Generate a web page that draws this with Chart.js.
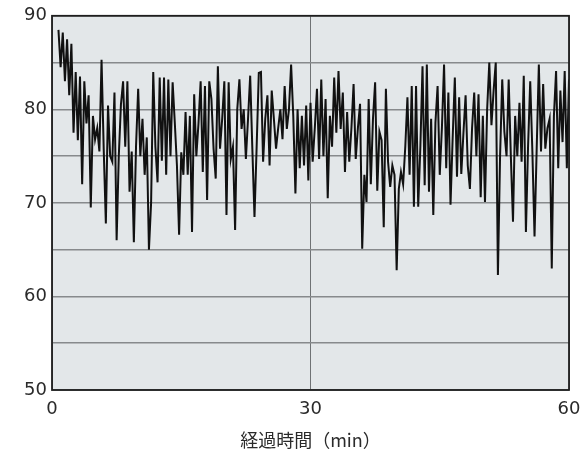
<!DOCTYPE html>
<html>
<head>
<meta charset="utf-8">
<script src="https://cdn.jsdelivr.net/npm/chart.js@4.4.0/dist/chart.umd.min.js"></script>
<style>
  html, body { margin: 0; padding: 0; background: #fff; }
</style>
</head>
<body>
<canvas id="hrChart" width="580" height="458"></canvas>
<script>
// sampled every 15 s, first sample at 0.75 min
var startMin = 0.75
var stepMin = 0.25

// values, one array per ~12 min stretch
var seg1 = [88.5, 84.5, 88.2, 83.0, 87.5, 81.5, 87.0, 77.5, 84.0, 76.7, 83.5, 72.0, 83.0, 78.5, 81.5, 69.5,
  79.3, 76.8, 78.0, 75.5, 85.3, 75.8, 67.8, 80.4, 75.0, 74.4, 81.8, 66.0, 75.0, 80.5, 83.0, 76.0,
  83.0, 71.2, 75.5, 65.8, 76.0, 82.2, 75.0, 79.0, 73.0, 77.0, 65.0, 70.0, 84.0, 76.0]
var seg2 = [72.2, 83.4, 74.5, 83.4, 73.0, 83.2, 75.0, 82.9, 78.6, 74.0, 66.6, 75.4, 73.0, 79.7, 73.0, 79.3,
  66.9, 81.6, 75.0, 78.5, 83.0, 73.3, 82.5, 70.3, 83.0, 81.1, 75.8, 72.6, 84.6, 75.8, 79.0, 83.0,
  68.7, 82.9, 74.7, 76.0, 67.1, 80.0, 83.2, 77.9, 80.0, 74.7, 79.0, 83.6, 75.8, 68.5, 76.0, 83.9]
var seg3 = [84.0, 74.4, 79.0, 81.5, 74.0, 82.0, 79.0, 75.8, 78.0, 80.0, 76.8, 82.5, 77.9, 80.0, 84.8, 79.3,
  71.0, 80.0, 73.7, 79.3, 74.0, 80.4, 72.4, 80.7, 74.4, 78.0, 82.2, 74.7, 83.2, 75.0, 81.1, 70.5,
  79.3, 76.0, 83.4, 77.5, 84.1, 77.9, 81.8, 73.3, 79.7, 74.4, 78.0, 82.7, 74.7, 78.0, 80.6, 65.1, 73.0]
var seg4 = [70.1, 81.1, 72.0, 79.0, 82.9, 71.3, 77.6, 76.7, 67.4, 82.2, 74.4, 71.7, 74.0, 73.0, 62.8, 71.5,
  73.3, 72.0, 76.0, 81.3, 73.0, 82.5, 69.6, 82.5, 69.6, 76.0, 84.6, 71.9, 84.8, 71.2, 79.0, 68.7,
  78.6, 82.5, 73.0, 78.0, 84.8, 73.7, 81.8, 69.8, 77.0, 83.4, 72.8, 81.3, 73.1, 77.5, 81.5, 74.0]
var seg5 = [71.5, 78.0, 81.8, 75.0, 81.6, 70.6, 79.3, 70.1, 80.0, 85.0, 78.3, 82.0, 85.0, 62.3, 75.0, 83.2,
  77.6, 75.0, 83.2, 75.0, 68.0, 79.3, 75.0, 80.7, 74.4, 83.6, 66.9, 76.1, 83.0, 75.5, 66.4, 75.8,
  84.8, 75.5, 82.7, 75.8, 78.0, 79.0, 63.0, 79.3, 84.1, 73.7, 82.0, 76.5, 84.1, 73.7, 83.2]

var xTicks = [0, 30, 60]
var yLabelTicks = [50, 60, 70, 80, 90]

var values = seg1.concat(seg2, seg3, seg4, seg5)
var points = values.map((v, i) => ({ x: startMin + i * stepMin, y: v }))

var fontFamily = '"DejaVu Sans", "Noto Sans CJK JP", sans-serif'

// plot background and frame
var framePlugin = {
  id: 'frame',
  beforeDraw: (chart) => {
    let a = chart.chartArea
    let ctx = chart.ctx
    ctx.save()
    ctx.fillStyle = '#e3e7e9'
    ctx.fillRect(a.left, a.top, a.right - a.left, a.bottom - a.top)
    ctx.restore()
  },
  afterDraw: (chart) => {
    let a = chart.chartArea
    let ctx = chart.ctx
    ctx.save()
    ctx.strokeStyle = '#1e1e1e'
    ctx.lineWidth = 1.8
    ctx.strokeRect(a.left, a.top, a.right - a.left, a.bottom - a.top)
    ctx.restore()
  }
}

new Chart(document.getElementById('hrChart'), {
  type: 'line',
  data: {
    datasets: [{
      data: points,
      borderColor: '#111111',
      borderWidth: 2,
      pointRadius: 0,
      tension: 0,
      fill: false
    }]
  },
  options: {
    responsive: false,
    animation: false,
    layout: { padding: { top: 13, right: 11, left: 0, bottom: 0 } },
    plugins: {
      legend: { display: false },
      tooltip: { enabled: false }
    },
    scales: {
      x: {
        type: 'linear',
        min: 0,
        max: 60,
        afterBuildTicks: (scale) => { scale.ticks = xTicks.map(v => ({ value: v })) },
        afterFit: (scale) => {
          scale.height = 68
          scale.paddingLeft = 0
          scale.paddingRight = 0
        },
        grid: { color: '#6f7274', lineWidth: 1, drawTicks: false },
        border: { display: false },
        ticks: {
          padding: 9,
          color: '#2a2a2a',
          font: { family: fontFamily, size: 18 },
          maxRotation: 0
        },
        title: {
          display: true,
          text: '経過時間（min）',
          color: '#2a2a2a',
          font: { family: '"Noto Sans CJK JP", sans-serif', size: 18 },
          padding: { top: 2, bottom: 7 }
        }
      },
      y: {
        min: 50,
        max: 90,
        afterFit: (scale) => { scale.width = 52 },
        grid: { color: '#878a8c', lineWidth: 1.6, drawTicks: false },
        border: { display: false },
        ticks: {
          stepSize: 5,
          padding: 5,
          color: '#2a2a2a',
          font: { family: fontFamily, size: 18 },
          callback: (v) => yLabelTicks.includes(v) ? String(v) : ''
        }
      }
    }
  },
  plugins: [framePlugin]
})
</script>
</body>
</html>
